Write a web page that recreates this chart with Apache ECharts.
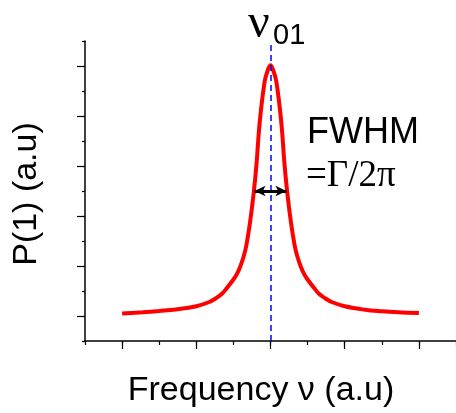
<!DOCTYPE html>
<html>
<head>
<meta charset="utf-8">
<script src="https://cdn.jsdelivr.net/npm/echarts@6/dist/echarts.min.js"></script>
<style>
  html, body { margin: 0; padding: 0; background: #fff; }
  #chart { width: 456px; height: 413px; }
</style>
</head>
<body>
<div id="chart"></div>
<script>
// values (x in tick units, y in tick units)
const freq = [1.0, 1.55, 2.0, 2.45, 3.0, 3.35, 3.52, 3.7, 3.83, 3.95, 4.08, 4.18, 4.28, 4.35, 4.45, 4.55, 4.62, 4.71, 4.84, 4.92, 5.0,
              5.08, 5.16, 5.29, 5.38, 5.45, 5.55, 5.65, 5.72, 5.82, 5.92, 6.05, 6.17, 6.3, 6.48, 6.65, 7.0, 7.55, 8.0, 8.45, 9.0];
const prob = [1.1, 1.15, 1.2, 1.26, 1.39, 1.56, 1.7, 1.9, 2.13, 2.36, 2.64, 2.96, 3.4, 3.83, 4.76, 5.96, 7.03, 8.76, 10.36, 10.8, 11.03,
              10.8, 10.36, 8.76, 7.03, 5.96, 4.76, 3.83, 3.4, 2.96, 2.64, 2.36, 2.13, 1.9, 1.7, 1.56, 1.39, 1.25, 1.19, 1.15, 1.12];
const centerFreq = 5;
const halfMax = 6;
const fwhmEdges = [4.57, 5.43];
const xMajorTicks = [1, 3, 5, 7, 9];
const yMajorTicks = [1, 3, 5, 7, 9, 11];

let chart = echarts.init(document.getElementById('chart'));

let axisBase = {
  axisLine: {lineStyle: {color: '#000', width: 1.5}},
  axisLabel: {show: false},
  splitLine: {show: false}
};

let option = {
  animation: false,
  grid: {left: 85, top: 41, right: -4, bottom: 72},
  xAxis: [
    Object.assign({}, axisBase, {
      type: 'value', min: 0, max: 10, interval: 1,
      axisTick: {length: 4, lineStyle: {color: '#000', width: 1.2}}
    }),
    Object.assign({}, axisBase, {
      type: 'value', min: 0, max: 10, position: 'bottom',
      axisLine: {show: false},
      axisTick: {length: 8, customValues: xMajorTicks, lineStyle: {color: '#000', width: 1.2}}
    })
  ],
  yAxis: [
    Object.assign({}, axisBase, {
      type: 'value', min: 0, max: 12, interval: 1,
      axisTick: {length: 3, lineStyle: {color: '#000', width: 1.2}}
    }),
    Object.assign({}, axisBase, {
      type: 'value', min: 0, max: 12, position: 'left',
      axisLine: {show: false},
      axisTick: {length: 8, customValues: yMajorTicks, lineStyle: {color: '#000', width: 1.2}}
    })
  ],
  series: [{
    type: 'line',
    xAxisIndex: 0,
    yAxisIndex: 0,
    data: freq.map((f, i) => [f, prob[i]]),
    smooth: 0.4,
    showSymbol: false,
    lineStyle: {color: '#ff0000', width: 4},
    markLine: {
      silent: true,
      symbol: ['none', 'none'],
      label: {show: false},
      data: [
        {xAxis: centerFreq, lineStyle: {color: '#0000ff', type: [6, 4], width: 1.5}},
        [
          {coord: [fwhmEdges[0], halfMax], symbol: 'arrow', symbolSize: [8, 11],
            lineStyle: {color: '#000', type: 'solid', width: 3}},
          {coord: [fwhmEdges[1], halfMax], symbol: 'arrow', symbolSize: [8, 11]}
        ]
      ]
    }
  }],
  graphic: [
    {type: 'text', left: 248, top: 0, style: {text: 'ν', font: '48px "Liberation Serif", serif', fill: '#000'}},
    {type: 'text', left: 273, top: 21, style: {text: '01', font: '29px "Liberation Sans", Arial, sans-serif', fill: '#000'}},
    {type: 'text', left: 307, top: 115, style: {text: 'FWHM', font: '36px "Liberation Sans", Arial, sans-serif', fill: '#000'}},
    {type: 'text', left: 306, top: 158, style: {text: '=Γ/2π', font: '37px "Liberation Serif", serif', fill: '#000'}},
    {type: 'text', x: 27, y: 194, rotation: Math.PI / 2,
      style: {text: 'P(1) (a.u)', font: '34px "Liberation Sans", Arial, sans-serif', fill: '#000',
        align: 'center', verticalAlign: 'middle'}},
    {type: 'text', x: 261, y: 391,
      style: {text: 'Frequency ν (a.u)', font: '34px "Liberation Sans", Arial, sans-serif', fill: '#000',
        align: 'center', verticalAlign: 'middle'}}
  ]
};

chart.setOption(option);
</script>
</body>
</html>
